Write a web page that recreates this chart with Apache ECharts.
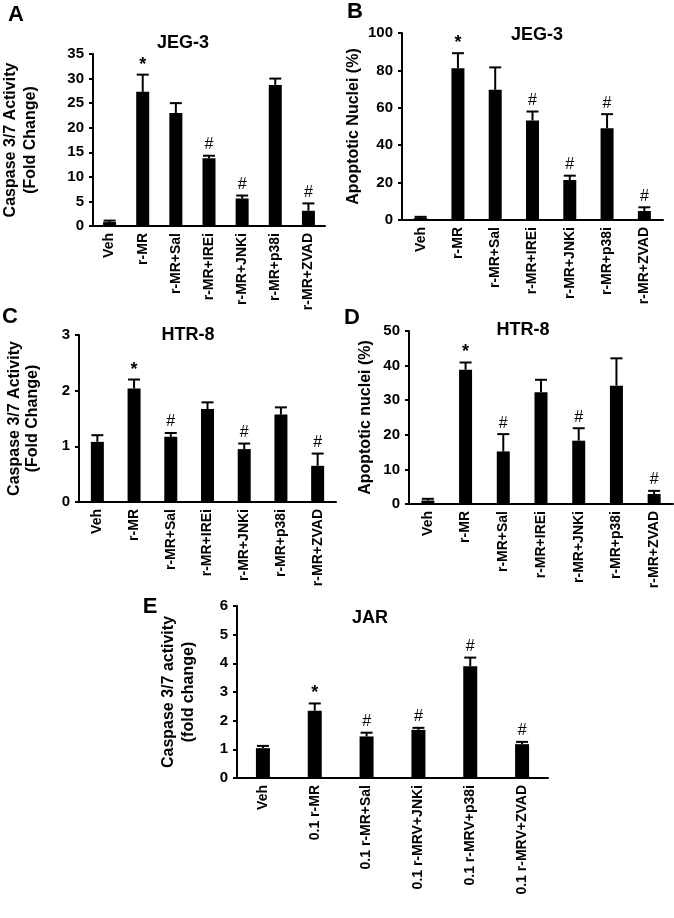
<!DOCTYPE html>
<html>
<head>
<meta charset="utf-8">
<script src="https://cdn.jsdelivr.net/npm/echarts@6/dist/echarts.min.js"></script>
<style>
html,body{margin:0;padding:0;background:#fff;}
#c{width:674px;height:918px;}
</style>
</head>
<body>
<div id="c"></div>
<script>
// ---- data ----
const catsJ = ['Veh','r-MR','r-MR+Sal','r-MR+IREi','r-MR+JNKi','r-MR+p38i','r-MR+ZVAD'];
const catsE = ['Veh','0.1 r-MR','0.1 r-MR+Sal','0.1 r-MRV+JNKi','0.1 r-MRV+p38i','0.1 r-MRV+ZVAD'];

const valsA = [0.8, 27.3, 23.0, 13.8, 5.6, 28.7, 3.1];
const errA  = [0.3, 3.5, 2.0, 0.5, 0.6, 1.3, 1.5];
const markA = ['', '*', '', '#', '#', '', '#'];

const valsB = [1.2, 81.2, 69.6, 53.2, 21.4, 49.1, 4.8];
const errB  = [0.5, 8.0, 12.0, 4.8, 2.3, 7.5, 2.0];
const markB = ['', '*', '', '#', '#', '#', '#'];

const valsC = [1.08, 2.04, 1.17, 1.67, 0.95, 1.57, 0.65];
const errC  = [0.12, 0.16, 0.07, 0.12, 0.10, 0.13, 0.22];
const markC = ['', '*', '#', '', '#', '', '#'];

const valsD = [1.0, 38.8, 15.2, 32.3, 18.3, 34.2, 2.9];
const errD  = [0.5, 2.1, 5.0, 3.6, 3.6, 7.9, 0.9];
const markD = ['', '*', '#', '', '#', '', '#'];

const valsE = [1.04, 2.35, 1.45, 1.68, 3.9, 1.18];
const errE  = [0.08, 0.25, 0.13, 0.07, 0.30, 0.08];
const markE = ['', '*', '#', '#', '#', '#'];

const yNames = [
  'Caspase 3/7 Activity\n(Fold Change)',
  'Apoptotic Nuclei (%)',
  'Caspase 3/7 Activity\n(Fold Change)',
  'Apoptotic nuclei (%)',
  'Caspase 3/7 activity\n(fold change)'
];
const titles = ['JEG-3', 'JEG-3', 'HTR-8', 'HTR-8', 'JAR'];
const letters = ['A', 'B', 'C', 'D', 'E'];

// ---- layout ----
const FONT = 'Arial, "Liberation Sans", sans-serif';
const panels = [
  {cats: catsJ, vals: valsA, errs: errA, marks: markA, max: 35, interval: 5,
   grid: {left: 78, top: 54, width: 247, height: 172}, nameGap: 52, lh: 20, barW: 13,
   title: [183, 43], letter: [16, 15]},
  {cats: catsJ, vals: valsB, errs: errB, marks: markB, max: 100, interval: 20,
   grid: {left: 402, top: 33, width: 261, height: 187}, nameGap: 34, lh: 20, barW: 13,
   title: [537, 35], letter: [355, 12]},
  {cats: catsJ, vals: valsC, errs: errC, marks: markC, max: 3, interval: 1,
   grid: {left: 79, top: 335, width: 257, height: 167}, nameGap: 37, lh: 18, barW: 13,
   title: [188, 335], letter: [10, 317]},
  {cats: catsJ, vals: valsD, errs: errD, marks: markD, max: 50, interval: 10,
   grid: {left: 409, top: 331, width: 264, height: 173}, nameGap: 33, lh: 20, barW: 13,
   title: [523, 330], letter: [352, 318]},
  {cats: catsE, vals: valsE, errs: errE, marks: markE, max: 6, interval: 1,
   grid: {left: 237, top: 606, width: 311, height: 172}, nameGap: 38, lh: 20, barW: 14,
   title: [370, 618], letter: [150, 607]}
];

const grids = [], xAxes = [], yAxes = [], series = [], graphics = [];
panels.forEach((p, i) => {
  grids.push(Object.assign({containLabel: false}, p.grid));
  xAxes.push({
    type: 'category', gridIndex: i, data: p.cats,
    axisLine: {lineStyle: {color: '#000', width: 2}},
    axisTick: {show: false},
    axisLabel: {rotate: 90, interval: 0, margin: 7, color: '#000',
      fontFamily: FONT, fontWeight: 'bold', fontSize: 14}
  });
  yAxes.push({
    type: 'value', gridIndex: i, min: 0, max: p.max, interval: p.interval,
    name: yNames[i], nameLocation: 'middle', nameGap: p.nameGap,
    nameTextStyle: {color: '#000', fontFamily: FONT, fontWeight: 'bold', fontSize: 16, lineHeight: p.lh},
    axisLine: {show: true, lineStyle: {color: '#000', width: 2}},
    axisTick: {show: true, length: 4, lineStyle: {color: '#000', width: 2}},
    splitLine: {show: false},
    axisLabel: {color: '#000', fontFamily: FONT, fontWeight: 'bold', fontSize: 15, margin: 9}
  });
  series.push({
    type: 'bar', xAxisIndex: i, yAxisIndex: i, data: p.vals,
    barWidth: p.barW, itemStyle: {color: '#000'}, silent: true
  });
  const errs = p.errs, marks = p.marks;
  series.push({
    type: 'custom', xAxisIndex: i, yAxisIndex: i, z: 5, silent: true,
    data: p.vals.map((v, k) => [k, v, errs[k]]),
    renderItem: function (params, api) {
      const k = api.value(0), v = api.value(1), e = api.value(2);
      const base = api.coord([k, v]);
      const top = api.coord([k, v + e]);
      const children = [
        {type: 'line', shape: {x1: base[0], y1: base[1], x2: top[0], y2: top[1]},
         style: {stroke: '#000', lineWidth: 2}},
        {type: 'line', shape: {x1: top[0] - 6, y1: top[1], x2: top[0] + 6, y2: top[1]},
         style: {stroke: '#000', lineWidth: 2}}
      ];
      const m = marks[params.dataIndex];
      if (m) {
        children.push({type: 'text', x: top[0], y: top[1] - (m === '*' ? 1 : 3),
          style: {text: m, fill: '#000', fontFamily: FONT,
            fontWeight: m === '*' ? 'bold' : 'normal',
            fontSize: m === '*' ? 18 : 16, align: 'center', verticalAlign: 'bottom'}});
      }
      return {type: 'group', children: children};
    }
  });
  graphics.push({type: 'text', x: p.title[0], y: p.title[1],
    style: {text: titles[i], fill: '#000', fontFamily: FONT, fontWeight: 'bold',
      fontSize: 18, align: 'center', verticalAlign: 'middle'}});
  graphics.push({type: 'text', x: p.letter[0], y: p.letter[1],
    style: {text: letters[i], fill: '#000', fontFamily: FONT, fontWeight: 'bold',
      fontSize: 22, align: 'center', verticalAlign: 'middle'}});
});

const chart = echarts.init(document.getElementById('c'), null, {renderer: 'canvas'});
chart.setOption({
  animation: false,
  backgroundColor: '#fff',
  grid: grids, xAxis: xAxes, yAxis: yAxes, series: series, graphic: graphics
});
</script>
</body>
</html>
